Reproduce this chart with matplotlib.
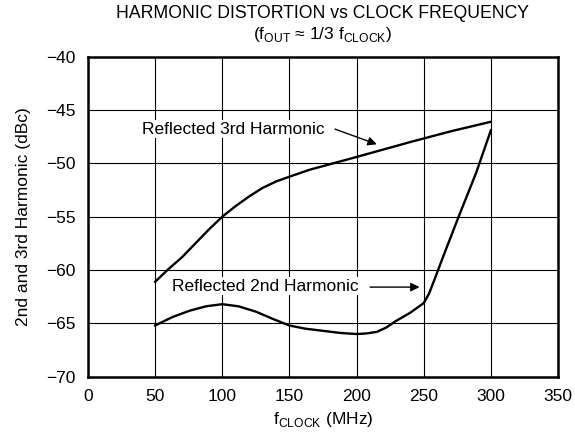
import matplotlib.pyplot as plt

plt.rcParams['font.family'] = ['Liberation Sans', 'DejaVu Sans']

# values
f_3rd = [50, 60, 70, 80, 90, 100, 110, 120, 130, 140, 150, 165, 200, 240, 270, 300]
h_3rd = [-61.1, -59.9, -58.8, -57.5, -56.2, -55.0, -54.0, -53.1, -52.3, -51.7, -51.25, -50.6, -49.4, -48.0, -47.0, -46.1]

f_2nd = [50, 63, 76, 88, 100, 112, 125, 138, 150, 162, 175, 188, 200, 207, 215, 222, 229, 240, 250,
         254, 258, 264, 276, 289, 300]
h_2nd = [-65.2, -64.4, -63.8, -63.4, -63.2, -63.4, -63.9, -64.6, -65.2, -65.5, -65.7, -65.9, -66.0, -65.95, -65.8, -65.4, -64.8, -64.0, -63.1,
         -62.2, -60.9, -58.9, -55.0, -50.9, -46.9]

x_ticks = [0, 50, 100, 150, 200, 250, 300, 350]
y_ticks = [-70, -65, -60, -55, -50, -45, -40]

fig = plt.figure(figsize=(5.75, 4.41), dpi=100)
ax = fig.add_axes([88 / 575, 1 - 376.7 / 441, (558 - 88) / 575, (376.7 - 56.7) / 441])

ax.plot(f_3rd, h_3rd, color='black', lw=1.7, zorder=3, solid_joinstyle='round')
ax.plot(f_2nd, h_2nd, color='black', lw=1.7, zorder=3, solid_joinstyle='round')

ax.set_xlim(0, 350)
ax.set_ylim(-70, -40)
ax.set_xticks(x_ticks)
ax.set_yticks(y_ticks)
ax.grid(True, color='black', lw=0.8)
ax.tick_params(length=0, labelsize=12.5, pad=9)
for s in ax.spines.values():
    s.set_linewidth(1.8)

box = dict(facecolor='white', edgecolor='none', pad=1)
ax.text(40, -46.8, 'Reflected 3rd Harmonic', fontsize=12.5, va='center', ha='left', bbox=box, zorder=4)
ax.annotate('', xy=(217, -48.3), xytext=(182, -46.7),
            arrowprops=dict(arrowstyle='-|>', color='black', lw=1, mutation_scale=13), zorder=4)
ax.text(62.4, -61.5, 'Reflected 2nd Harmonic', fontsize=12.5, va='center', ha='left', bbox=box, zorder=4)
ax.annotate('', xy=(249, -61.6), xytext=(208, -61.6),
            arrowprops=dict(arrowstyle='-|>', color='black', lw=1, mutation_scale=13), zorder=4)

ax.set_xlabel(r'f$_{\mathregular{CLOCK}}$ (MHz)', fontsize=12.5, labelpad=4)
ax.set_ylabel('2nd and 3rd Harmonic (dBc)', fontsize=12.5, labelpad=11)
cx = (88 + 558) / 2 / 575
fig.text(cx, 1 - 13.5 / 441, 'HARMONIC DISTORTION vs CLOCK FREQUENCY', ha='center', va='center', fontsize=12.7)
fig.text(cx, 1 - 34 / 441, r'(f$_{\mathregular{OUT}}$ ≈ 1/3 f$_{\mathregular{CLOCK}}$)', ha='center', va='center', fontsize=12.5)

fig.savefig('out.png', dpi=100)
